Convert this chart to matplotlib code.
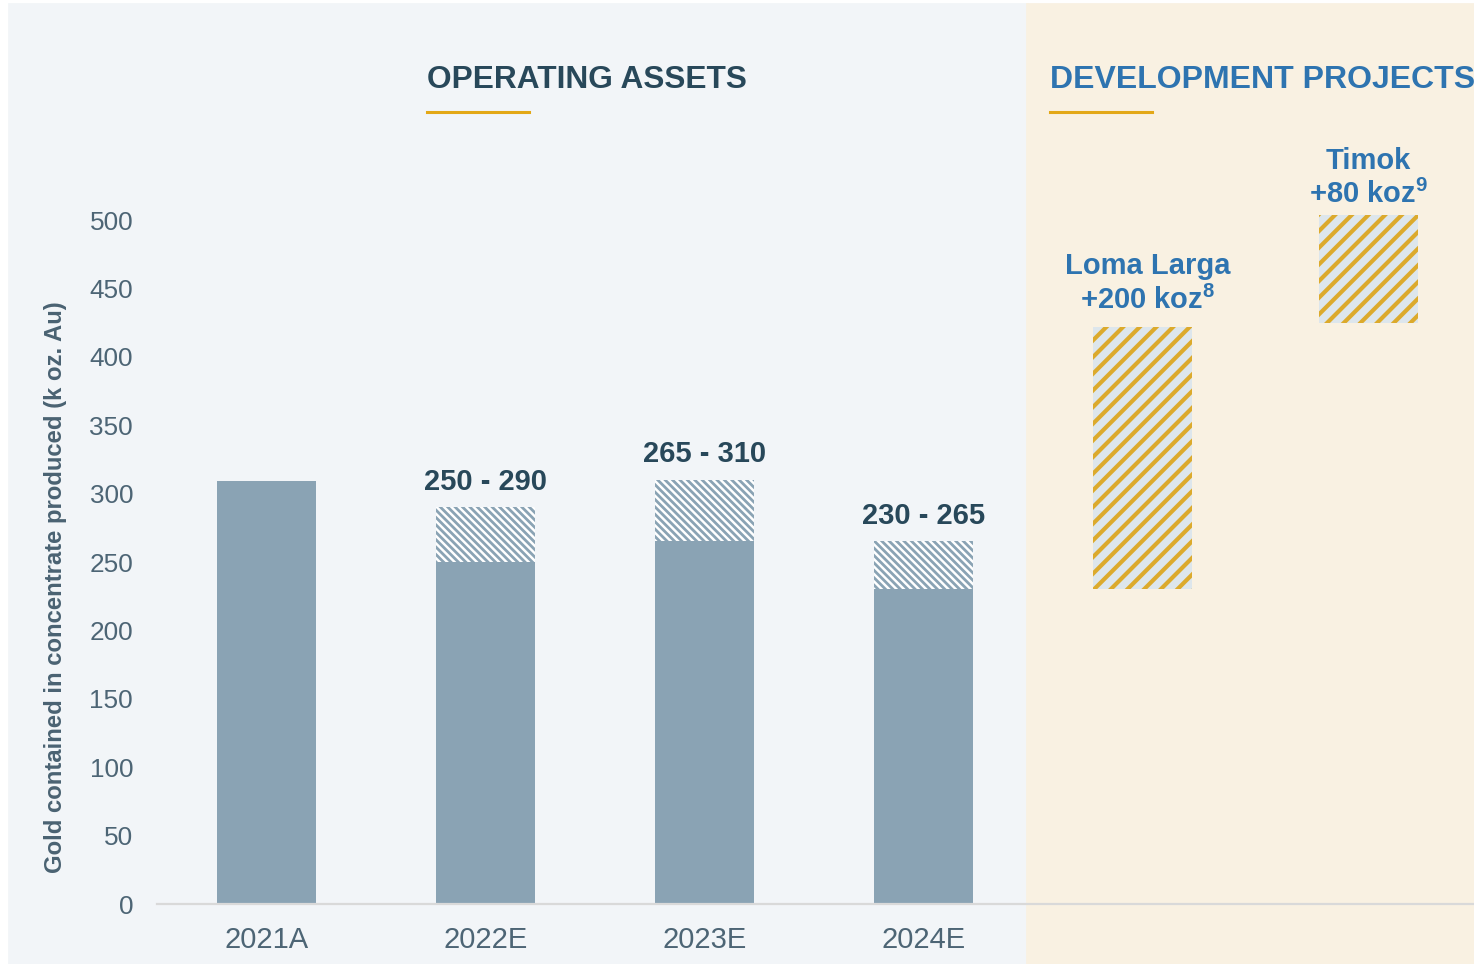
import matplotlib.pyplot as plt
from matplotlib.patches import Rectangle
from matplotlib.lines import Line2D

# chart data
years = ["2021A", "2022E", "2023E", "2024E"]
actual_2021 = [309]
guide_low = [250, 265, 230]
guide_high = [290, 310, 265]
projects = ["Loma Larga", "Timok"]
project_adds = ["+200 koz$^{\\mathbf{8}}$", "+80 koz$^{\\mathbf{9}}$"]
project_low = [230, 425]
project_high = [422, 504]
yticks = list(range(0, 501, 50))

# colours
bar_grey = "#8aa3b4"
dark = "#28485a"
tick_col = "#4d6575"
blue = "#2e74b0"
gold = "#dcaa2c"
gold_line = "#e3a817"
hatch_bg = "#dde6ec"

plt.rcParams["font.family"] = ["Liberation Sans", "DejaVu Sans"]
plt.rcParams["mathtext.fontset"] = "custom"
plt.rcParams["mathtext.rm"] = "Liberation Sans"
plt.rcParams["mathtext.bf"] = "Liberation Sans:bold"

W, H = 1474, 964
fig = plt.figure(figsize=(W / 200, H / 200), dpi=200)
fig.patch.set_facecolor("white")

# background panels
fig.add_artist(Rectangle((9 / W, 0), (1027 - 9) / W, 1 - 4 / H,
                         transform=fig.transFigure, color="#f2f5f8", zorder=0))
fig.add_artist(Rectangle((1027 / W, 0), 1 - 1027 / W, 1 - 4 / H,
                         transform=fig.transFigure, color="#f9f1e2", zorder=0))

ax = fig.add_axes([157 / W, 60 / H, 1317 / W, 684 / H])
ax.patch.set_visible(False)

x_years = [0, 1, 2, 3]
x_proj = [4, 5.03]
width = 0.452

# 2021 actual + guidance lows
ax.bar(x_years, actual_2021 + guide_low, width=width, color=bar_grey, zorder=2)

# guidance range (hatched)
plt.rcParams["hatch.linewidth"] = 1.0
ax.bar(x_years[1:], [h - l for h, l in zip(guide_high, guide_low)], bottom=guide_low,
       width=width, facecolor="white", edgecolor=bar_grey, linewidth=0,
       hatch="\\" * 9, zorder=2)

for x, lo, hi in zip(x_years[1:], guide_low, guide_high):
    ax.annotate(f"{lo} - {hi}", (x, hi), xytext=(0, 6.3), textcoords="offset points",
                ha="center", va="baseline", fontsize=10.5, fontweight="bold", color=dark)

# development projects
plt.rcParams["hatch.linewidth"] = 1.5
ax.bar(x_proj, [h - l for h, l in zip(project_high, project_low)], bottom=project_low,
       width=width, facecolor=hatch_bg, edgecolor=gold, linewidth=0,
       hatch="/" * 4, zorder=2, clip_on=False)

label_gap = [6.5, 4]
label_dx = [1.8, 0]
for x, hi, name, add, gap, dx in zip(x_proj, project_high, projects, project_adds,
                                     label_gap, label_dx):
    ax.annotate(add, (x, hi), xytext=(dx, gap), textcoords="offset points",
                ha="center", va="baseline", fontsize=10.5, fontweight="bold", color=blue,
                annotation_clip=False)
    ax.annotate(name, (x, hi), xytext=(dx, gap + 12.4), textcoords="offset points",
                ha="center", va="baseline", fontsize=10.5, fontweight="bold", color=blue,
                annotation_clip=False)

ax.set_xlim(-0.5, 5.514)
ax.set_ylim(0, 500)
ax.set_yticks(yticks)
ax.set_xticks(x_years)
ax.set_xticklabels(years)
ax.tick_params(axis="y", length=0, pad=8.6, labelsize=9.4, labelcolor=tick_col)
ax.tick_params(axis="x", length=0, pad=8, labelsize=10.5, labelcolor=tick_col)
for side in ["top", "right", "left"]:
    ax.spines[side].set_visible(False)
ax.spines["bottom"].set_color("#d9d9d9")
ax.spines["bottom"].set_linewidth(0.8)

ax.set_ylabel("Gold contained in concentrate produced (k oz. Au)", fontsize=8.6,
              fontweight="bold", color="#4a6272")
ax.yaxis.set_label_coords(-0.0685, 0.463)

# section headers
fig.text(427 / W, 1 - 88 / H, "OPERATING ASSETS", fontsize=11.4, fontweight="bold",
         color=dark, va="baseline")
fig.text(1050 / W, 1 - 88 / H, "DEVELOPMENT PROJECTS", fontsize=11.5, fontweight="bold",
         color=blue, va="baseline")
for x0 in [427, 1050]:
    fig.add_artist(Line2D([x0 / W, (x0 + 102) / W], [1 - 112 / H] * 2, lw=1.1,
                          color=gold_line, transform=fig.transFigure))

fig.savefig("out.png", dpi=200)
